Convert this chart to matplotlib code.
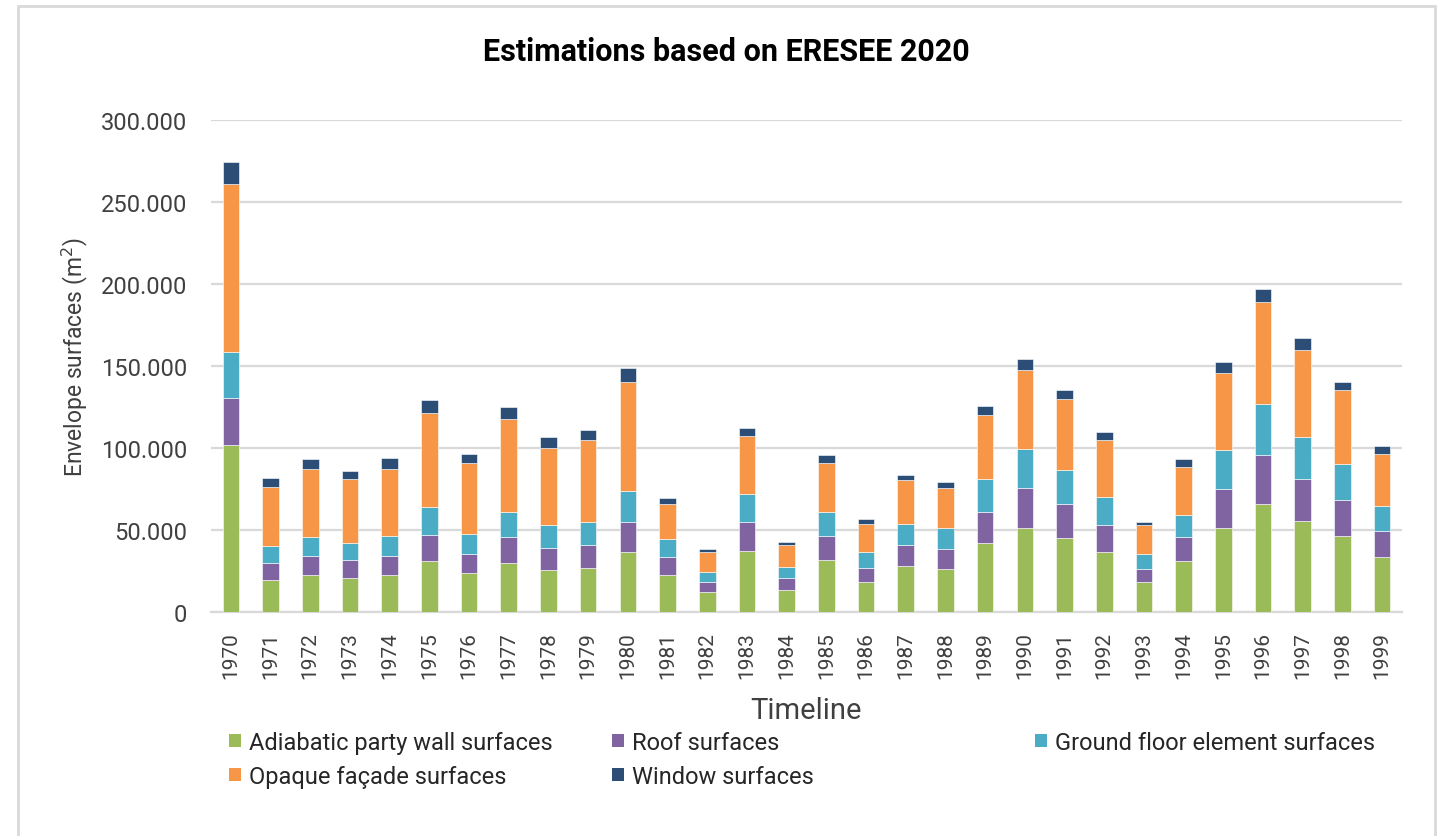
import matplotlib
matplotlib.use("Agg")
import matplotlib.pyplot as plt
from matplotlib.patches import Rectangle, Patch
import numpy as np

plt.rcParams["font.family"] = ["Roboto", "DejaVu Sans"]

# years on the x axis
years = [str(y) for y in range(1970, 2000)]

# envelope surfaces in m2 (stack order bottom -> top)
adiabatic = [102100, 19800, 22700, 20800, 22700, 31000, 23700, 29900, 25500, 27100,
             36500, 22700, 12500, 37400, 13500, 31800, 18000, 28100, 26300, 41900,
             51000, 45000, 36500, 18200, 31000, 51000, 65800, 55700, 46500, 33800]
roof = [28300, 10100, 11700, 11000, 11700, 16200, 11700, 15700, 13700, 13800,
        18200, 10900, 5700, 17300, 7300, 14600, 9100, 12800, 12000, 19000,
        24700, 20800, 16500, 8300, 14700, 23700, 30200, 25500, 21700, 15400]
ground = [28400, 10200, 11200, 10100, 12100, 16600, 12000, 15300, 13700, 13800,
          19200, 11100, 6300, 17400, 6500, 14500, 9400, 12900, 12700, 20300,
          23900, 20800, 17200, 8900, 13600, 23900, 30700, 25500, 22100, 15400]
facade = [102200, 36400, 41900, 39300, 41000, 57500, 43700, 56700, 47300, 50200,
          66400, 20900, 12000, 35400, 13800, 30200, 17100, 26400, 24700, 39100,
          48200, 43000, 34700, 17500, 29200, 47400, 62200, 52800, 44800, 32000]
window = [13600, 5500, 5500, 4500, 6500, 8100, 5500, 7300, 6500, 6300,
          8500, 3700, 1800, 4700, 1800, 4700, 2900, 3600, 3600, 5500,
          6500, 5500, 4600, 1800, 4500, 6500, 8100, 7300, 5400, 4600]

series = [
    ("Adiabatic party wall surfaces", adiabatic, "#9BBB59"),
    ("Roof surfaces", roof, "#8064A2"),
    ("Ground floor element surfaces", ground, "#4BACC6"),
    ("Opaque façade surfaces", facade, "#F79646"),
    ("Window surfaces", window, "#2C4D75"),
]

W, H = 1440, 837
fig = plt.figure(figsize=(W / 100, H / 100), dpi=100)
ax = fig.add_axes([211 / W, 1 - 613 / H, (1402 - 211) / W, (613 - 121) / H])

x = np.arange(len(years))
bottom = np.zeros(len(years))
for name, vals, col in series:
    ax.bar(x, vals, 0.42, bottom=bottom, color=col, edgecolor="white",
           linewidth=0.4, label=name, zorder=3)
    bottom += np.array(vals)

ax.set_xlim(-0.5, len(years) - 0.5)
ax.set_ylim(0, 300000)
ax.set_yticks(range(0, 300001, 50000))
ax.set_yticklabels([f"{v:,.0f}".replace(",", ".") for v in range(0, 300001, 50000)])
ax.set_xticks(x)
ax.set_xticklabels(years, rotation=90)
ax.grid(axis="y", color="#d9d9d9", linewidth=1.6, zorder=0)
for s in ["top", "right", "left"]:
    ax.spines[s].set_visible(False)
ax.spines["bottom"].set_color("#d9d9d9")
ax.spines["bottom"].set_linewidth(1.6)
ax.tick_params(axis="y", length=0, pad=17, labelsize=17, labelcolor="#404040")
ax.tick_params(axis="x", length=0, pad=14, labelsize=15, labelcolor="#404040")

fig.text(726 / W, 1 - 52 / H, "Estimations based on ERESEE 2020", ha="center",
         va="center", fontsize=22, fontweight="bold", color="black")
fig.text(75 / W, 1 - 357 / H, "Envelope surfaces (m$^2$)", rotation=90, ha="center",
         va="center", fontsize=16.5, color="#404040")
fig.text(806.5 / W, 1 - 711 / H, "Timeline", ha="center", va="center",
         fontsize=21, color="#404040")

# legend laid out in three separate columns like the original
handles = [Patch(facecolor=c, label=n) for n, v, c in series]
cols = [([handles[0], handles[3]], 229), ([handles[1], handles[4]], 612), ([handles[2]], 1035)]
for hs, xpos in cols:
    fig.legend(handles=hs, loc="upper left", bbox_to_anchor=(xpos / W, 1 - 732 / H),
               frameon=False, fontsize=17, handlelength=0.5, handleheight=0.5,
               handletextpad=0.35, labelspacing=0.45, borderpad=0, borderaxespad=0,
               labelcolor="#262626")

fig.patches.append(Rectangle((18 / W, -0.02), (1435 - 18) / W, 1 - 7 / H + 0.02,
                             transform=fig.transFigure, fill=False,
                             edgecolor="#d9d9d9", linewidth=2))

fig.savefig("out.png", dpi=100)
